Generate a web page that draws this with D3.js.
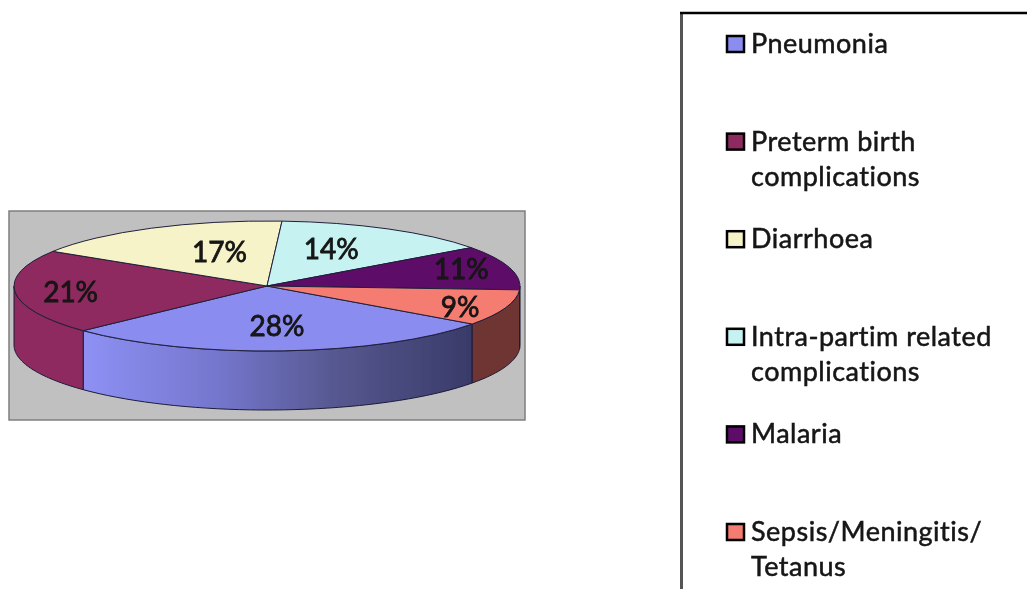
<!DOCTYPE html>
<html lang="en">
  <head>
    <meta charset="UTF-8" />
    <script src="https://d3js.org/d3.v7.min.js"></script>
    <style>
      html, body { margin: 0; padding: 0; background: #fff; overflow: hidden; }
      text { font-family: Lato, "Open Sans", sans-serif; fill: #141414; stroke: #141414; stroke-width: 0.5px; }
    </style>
  </head>

  <body>
    <script>
      // chart values, clockwise from the lower right edge of the pie
      var categories = ["Pneumonia", "Preterm birth complications", "Diarrhoea",
        "Intra-partim related complications", "Malaria", "Sepsis/Meningitis/ Tetanus"];
      var values = [28, 21, 17, 14, 11, 9];
      var legendLines = [["Pneumonia"], ["Preterm birth", "complications"], ["Diarrhoea"],
        ["Intra-partim related", "complications"], ["Malaria"], ["Sepsis/Meningitis/", "Tetanus"]];
      var topColors = ["#8b8cf0", "#8e2b5e", "#f6f3c9", "#c6f2f1", "#5d0b67", "#f57b70"];
      var wallColors = ["url(#wall)", "#8e2b5e", "#f6f3c9", "#c6f2f1", "#5d0b67", "#6e3430"];

      var width = 1027,
        height = 589;

      var cx = 267, cy = 286, rx = 253, ry = 65, depth = 59;
      var rad = Math.PI / 180;

      var svg = d3
        .select("body")
        .append("svg")
        .attr("width", width)
        .attr("height", height);

      var defs = svg.append("defs");
      defs.append("filter").attr("id", "soft")
        .attr("filterUnits", "userSpaceOnUse")
        .attr("x", 0).attr("y", 0)
        .attr("width", width).attr("height", height)
        .append("feGaussianBlur").attr("stdDeviation", 0.7);

      var grad = defs.append("linearGradient").attr("id", "wall")
        .attr("gradientUnits", "userSpaceOnUse")
        .attr("x1", 85).attr("x2", 470).attr("y1", 0).attr("y2", 0);
      [[0, "#8e90f4"], [0.35, "#7476cc"], [0.65, "#565890"], [1, "#393b69"]].forEach(function (s) {
        grad.append("stop").attr("offset", s[0]).attr("stop-color", s[1]);
      });

      var page = svg.append("g").attr("filter", "url(#soft)");

      // plot area
      page.append("rect")
        .attr("x", 9).attr("y", 211).attr("width", 516).attr("height", 209)
        .attr("fill", "#c0c0c0").attr("stroke", "#7f7f7f").attr("stroke-width", 1.5);

      var pie = d3.pie().sort(null)
        .startAngle(125.8 * rad).endAngle(485.8 * rad);
      var slices = pie(values);

      function edge(a, drop) {
        return [cx + rx * Math.sin(a), cy - ry * Math.cos(a) + drop];
      }

      // walls, only the part of each slice on the front half
      var line = d3.line();
      var walls = page.append("g");
      function drawWall(a0, a1, fill) {
        if (a1 <= a0) return;
        var steps = d3.range(0, 41).map(function (k) { return a0 + (a1 - a0) * k / 40; });
        var pts = steps.map(function (a) { return edge(a, 0); })
          .concat(steps.slice().reverse().map(function (a) { return edge(a, depth); }));
        walls.append("path")
          .attr("d", line(pts) + "Z")
          .attr("fill", fill)
          .attr("stroke", "#1c1c3a").attr("stroke-width", 1);
      }
      slices.forEach(function (d, i) {
        // the last slice wraps past a full turn
        var turn = d.startAngle > 360 * rad || d.endAngle > 450 * rad ? 2 * Math.PI : 0;
        drawWall(Math.max(d.startAngle - turn, 90 * rad), Math.min(d.endAngle - turn, 270 * rad), wallColors[i]);
      });

      // top face, a flat d3 arc squashed to an ellipse
      var arc = d3.arc().innerRadius(0).outerRadius(rx);
      page.append("g")
        .attr("transform", "translate(" + cx + "," + cy + ") scale(1," + ry / rx + ")")
        .selectAll("path")
        .data(slices)
        .enter()
        .append("path")
        .attr("d", arc)
        .attr("fill", function (d, i) { return topColors[i]; })
        .attr("stroke", "#20203c")
        .attr("stroke-width", 1)
        .attr("vector-effect", "non-scaling-stroke");

      // label distance from the centre, as a share of the radius (across, down)
      var labelReach = [[0.6, 0.6], [0.78, 0.78], [0.41, 0.6], [0.53, 0.67], [0.8, 1.0], [0.81, 0.9]];
      page.append("g")
        .selectAll("text")
        .data(slices)
        .enter()
        .append("text")
        .attr("x", function (d, i) {
          return cx + rx * labelReach[i][0] * Math.sin((d.startAngle + d.endAngle) / 2);
        })
        .attr("y", function (d, i) {
          return cy - ry * labelReach[i][1] * Math.cos((d.startAngle + d.endAngle) / 2);
        })
        .attr("text-anchor", "middle")
        .attr("dominant-baseline", "central")
        .attr("font-size", 28)
        .style("stroke-width", "0.8px")
        .text(function (d) { return d.data + "%"; });

      // legend frame runs off the right and bottom of the page
      page.append("line")
        .attr("x1", 681.5).attr("x2", 681.5).attr("y1", 13).attr("y2", height + 5)
        .attr("stroke", "#555").attr("stroke-width", 3);
      page.append("line")
        .attr("x1", 680).attr("x2", width + 5).attr("y1", 13).attr("y2", 13)
        .attr("stroke", "#000").attr("stroke-width", 2.5);

      var rowY = d3.scalePoint().domain(categories).range([52, 540]);
      var rows = page.append("g")
        .selectAll("g")
        .data(categories)
        .enter()
        .append("g")
        .attr("transform", function (d) { return "translate(0," + rowY(d) + ")"; });

      rows.append("rect")
        .attr("x", 727).attr("y", -16).attr("width", 17).attr("height", 16)
        .attr("fill", function (d, i) { return topColors[i]; })
        .attr("stroke", "#000").attr("stroke-width", 2.5);

      rows.selectAll("text")
        .data(function (d, i) { return legendLines[i]; })
        .enter()
        .append("text")
        .attr("x", 751)
        .attr("y", function (d, i) { return 1 + i * 35; })
        .attr("font-size", 27)
        .attr("letter-spacing", 0.5)
        .text(function (d) { return d; });
    </script>
  </body>
</html>
